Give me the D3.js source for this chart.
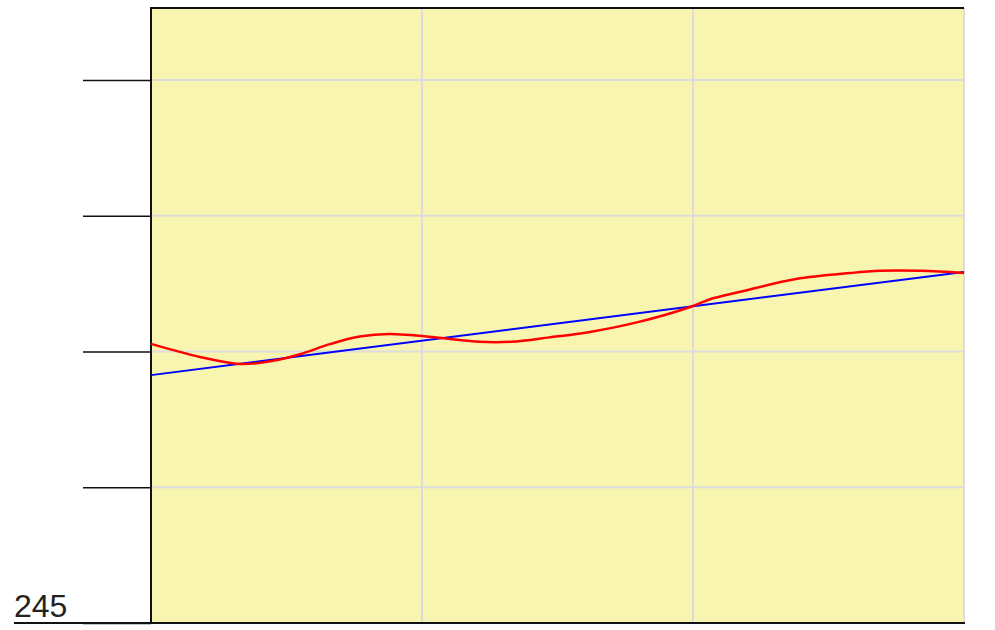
<!DOCTYPE html>
<html>
<head>
<meta charset="utf-8">
<script src="https://cdn.jsdelivr.net/npm/d3@7"></script>
<style>
  html, body { margin: 0; padding: 0; background: #fff; }
  svg { display: block; }
</style>
</head>
<body>
<svg id="chart" width="995" height="630"></svg>
<script>
// x positions of the samples (domain 0..3)
const xTicks = [0, 1, 2, 3];
// y tick values and their labels (only the baseline is labelled)
const yTicks = [245, 250, 255, 260, 265];
const yTickLabels = ["245", "", "", "", ""];

// straight trend line
const trendX = [0, 3];
const trendY = [254.13, 257.93];

// smooth measured curve
const curveX = [0, 0.18, 0.33, 0.45, 0.55, 0.66, 0.77, 0.88, 1.07, 1.21, 1.33, 1.47, 1.62, 1.8, 1.99, 2.07, 2.17, 2.38, 2.58, 2.69, 2.84, 3.0];
const curveY = [255.28, 254.80, 254.54, 254.66, 254.90, 255.27, 255.55, 255.64, 255.50, 255.36, 255.36, 255.52, 255.72, 256.09, 256.64, 256.95, 257.19, 257.67, 257.89, 257.97, 257.97, 257.89];

const svg = d3.select("#chart");
const plotL = 151, plotR = 964, plotT = 8, plotB = 623;

const x = d3.scaleLinear().domain([0, 3]).range([plotL, plotR]);
const y = d3.scaleLinear().domain([245, 265]).range([plotB, 80]);

// plot background
svg.append("rect")
  .attr("x", plotL).attr("y", plotT)
  .attr("width", plotR - plotL).attr("height", plotB - plotT)
  .attr("fill", "#f8f5b1");

// grid lines
const grid = svg.append("g").attr("stroke", "#dcdcdc").attr("stroke-width", 2);
grid.selectAll("line.v").data(xTicks.slice(1)).join("line")
  .attr("class", "v")
  .attr("x1", d => x(d)).attr("x2", d => x(d))
  .attr("y1", plotT).attr("y2", plotB);
grid.selectAll("line.h").data(yTicks.slice(1)).join("line")
  .attr("class", "h")
  .attr("x1", plotL).attr("x2", plotR)
  .attr("y1", d => y(d)).attr("y2", d => y(d));

// y axis with long outward ticks
const yAxis = d3.axisLeft(y)
  .tickValues(yTicks)
  .tickSize(68)
  .tickFormat((d, i) => yTickLabels[i]);
const ya = svg.append("g").attr("transform", `translate(${plotL},0)`).call(yAxis);
ya.select(".domain").remove();
ya.selectAll(".tick line").attr("stroke", "#111").attr("stroke-width", 1.6);
ya.selectAll(".tick text").remove();

// baseline label sits on a longer underline
const base = svg.append("g");
base.append("line")
  .attr("x1", 14).attr("x2", plotL)
  .attr("y1", y(245)).attr("y2", y(245))
  .attr("stroke", "#111").attr("stroke-width", 2);
base.append("text")
  .attr("x", 14).attr("y", y(245) - 6)
  .attr("font-family", "Liberation Sans, Arial, sans-serif")
  .attr("font-size", 32)
  .attr("fill", "#222")
  .text(yTickLabels[0]);

// frame: left, top and bottom edges
svg.append("line").attr("x1", plotL).attr("x2", plotL).attr("y1", plotT - 1).attr("y2", plotB)
  .attr("stroke", "#111").attr("stroke-width", 2);
svg.append("line").attr("x1", plotL).attr("x2", plotR).attr("y1", plotT).attr("y2", plotT)
  .attr("stroke", "#111").attr("stroke-width", 2);
svg.append("line").attr("x1", plotL).attr("x2", plotR + 1).attr("y1", plotB).attr("y2", plotB)
  .attr("stroke", "#111").attr("stroke-width", 2);

// trend line
const lineGen = d3.line().x(d => x(d[0])).y(d => y(d[1]));
svg.append("path")
  .datum(d3.zip(trendX, trendY))
  .attr("d", lineGen)
  .attr("fill", "none").attr("stroke", "#0000ff").attr("stroke-width", 2);

// measured curve
const curveGen = d3.line().x(d => x(d[0])).y(d => y(d[1])).curve(d3.curveCatmullRom);
svg.append("path")
  .datum(d3.zip(curveX, curveY))
  .attr("d", curveGen)
  .attr("fill", "none").attr("stroke", "#ff0000").attr("stroke-width", 2.5);
</script>
</body>
</html>
